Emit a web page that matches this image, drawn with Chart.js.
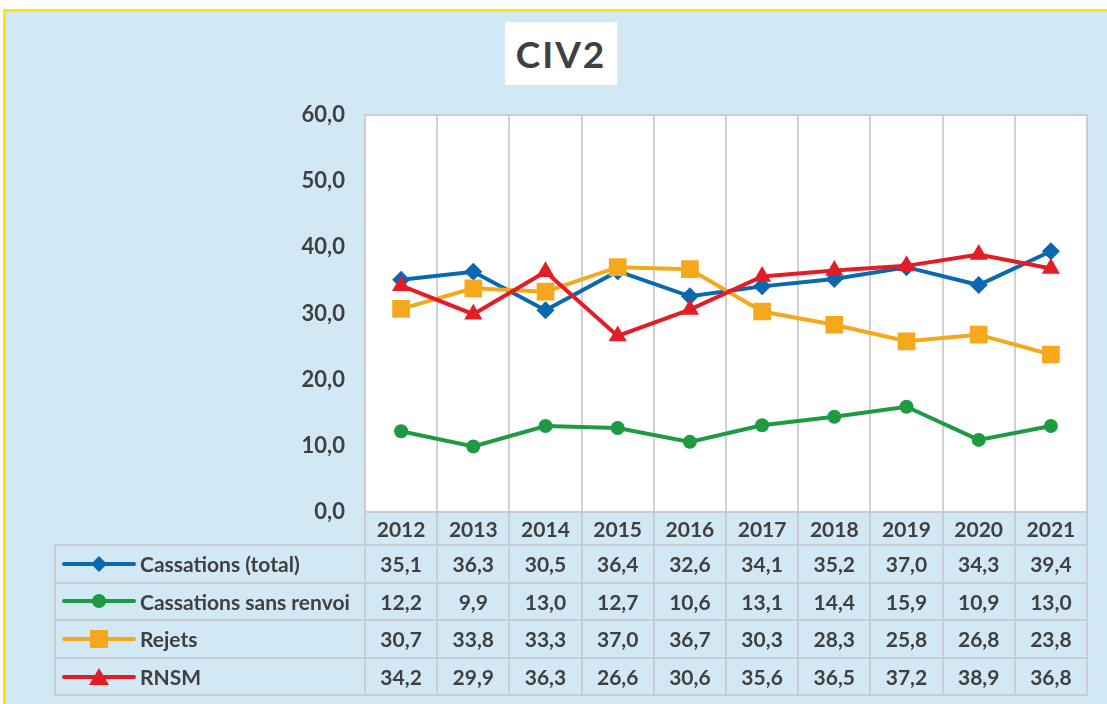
<!DOCTYPE html>
<html>
<head>
<meta charset="utf-8">
<script src="https://cdn.jsdelivr.net/npm/chart.js@4.4.1/dist/chart.umd.min.js"></script>
<style>
  html, body { margin: 0; padding: 0; background: #fff; }
  #wrap { position: absolute; left: 0; top: 0; width: 1107px; height: 704px; overflow: hidden; }
  #frame { position: absolute; left: 3px; top: 9px; width: 1110px; height: 710px; box-sizing: border-box;
           border: 3px solid #FFE800; background: #D2E8F4; }
  #title { position: absolute; left: 505px; top: 22px; width: 112px; height: 63px; background: #fff;
           font: bold 37px Lato, "Open Sans", sans-serif; color: #404040; text-align: center;
           line-height: 63px; letter-spacing: 2px; }
  canvas { position: absolute; left: 0; top: 0; }
  .cell { position: absolute; box-sizing: border-box; border: 2px solid #C9CDD0; font: bold 21px Lato, "Open Sans", sans-serif;
          color: #404040; display: flex; align-items: center; justify-content: center; }
  .lab { justify-content: flex-start; }
  .lab svg { margin-left: 6px; margin-right: 4px; }
</style>
</head>
<body>
<div id="wrap">
  <div id="frame"></div>
  <div id="title">CIV2</div>
  <canvas id="myChart" width="1107" height="704"></canvas>
  <div id="table"></div>
</div>
<script>
var years = ['2012', '2013', '2014', '2015', '2016', '2017', '2018', '2019', '2020', '2021'];
var cassTotal = [35.1, 36.3, 30.5, 36.4, 32.6, 34.1, 35.2, 37.0, 34.3, 39.4];
var cassSansRenvoi = [12.2, 9.9, 13.0, 12.7, 10.6, 13.1, 14.4, 15.9, 10.9, 13.0];
var rejets = [30.7, 33.8, 33.3, 37.0, 36.7, 30.3, 28.3, 25.8, 26.8, 23.8];
var rnsm = [34.2, 29.9, 36.3, 26.6, 30.6, 35.6, 36.5, 37.2, 38.9, 36.8];
var seriesNames = ['Cassations (total)', 'Cassations sans renvoi', 'Rejets', 'RNSM'];
var yMin = 0, yMax = 60, yStep = 10;

var colors = ['#0A68B0', '#1E9A43', '#F5A81C', '#E31D25'];
var markers = ['rectRot', 'circle', 'rect', 'triangle'];
var radii = [9, 7, 12.5, 10.5];

function fmt(v) {
    return v.toFixed(1).replace('.', ',');
}

// plot area background + border
var areaPlugin = {
    id: 'areaPlugin',
    beforeDraw: function (chart) {
        var a = chart.chartArea, ctx = chart.ctx;
        ctx.save();
        ctx.fillStyle = '#FFFFFF';
        ctx.fillRect(a.left, a.top, a.right - a.left, a.bottom - a.top);
        ctx.restore();
    },
    afterDraw: function (chart) {
        var a = chart.chartArea, ctx = chart.ctx;
        ctx.save();
        ctx.strokeStyle = '#C9CDD0';
        ctx.lineWidth = 2;
        ctx.strokeRect(a.left, a.top, a.right - a.left, a.bottom - a.top);
        ctx.restore();
    }
};

var allData = [cassTotal, cassSansRenvoi, rejets, rnsm];
var datasets = allData.map(function (d, i) {
    return {
        label: seriesNames[i],
        data: d,
        borderColor: colors[i],
        backgroundColor: colors[i],
        borderWidth: 4,
        pointStyle: markers[i],
        pointRadius: radii[i],
        pointBorderWidth: 0,
        tension: 0,
        order: 4 - i
    };
});

const ctx = document.getElementById('myChart');
var chart = new Chart(ctx, {
    type: 'line',
    data: { labels: years, datasets: datasets },
    options: {
        responsive: false,
        animation: false,
        layout: { padding: { left: 0, top: 115, right: 20, bottom: 192 } },
        plugins: { legend: { display: false }, title: { display: false }, tooltip: { enabled: false } },
        scales: {
            x: {
                offset: true,
                ticks: { display: false },
                grid: { display: true, offset: true, color: '#D0D0D0', lineWidth: 2, drawTicks: false },
                border: { display: false }
            },
            y: {
                min: yMin, max: yMax,
                afterFit: function (scale) { scale.width = 365; },
                ticks: {
                    stepSize: yStep,
                    padding: 20,
                    color: '#404040',
                    font: { family: 'Lato', size: 22, weight: 'bold' },
                    callback: function (v) { return fmt(v); }
                },
                grid: { display: false, drawTicks: false },
                border: { display: false }
            }
        }
    },
    plugins: [areaPlugin]
});

// data table below the plot, aligned with the x scale
function legendSvg(i) {
    var s = '<svg width="74" height="20" viewBox="0 0 74 20">';
    s += '<line x1="2" y1="10" x2="72" y2="10" stroke="' + colors[i] + '" stroke-width="4" stroke-linecap="round"/>';
    if (markers[i] === 'rectRot') s += '<polygon points="37,2 45,10 37,18 29,10" fill="' + colors[i] + '"/>';
    if (markers[i] === 'circle') s += '<circle cx="37" cy="10" r="7" fill="' + colors[i] + '"/>';
    if (markers[i] === 'rect') s += '<rect x="28" y="1" width="18" height="18" fill="' + colors[i] + '"/>';
    if (markers[i] === 'triangle') s += '<polygon points="37,1 47,18 27,18" fill="' + colors[i] + '"/>';
    return s + '</svg>';
}

var area = chart.chartArea;
var colW = (area.right - area.left) / years.length;
var tableLeft = 54;
var headTop = area.bottom, headH = 33;
var rowH = 37.6;
var html = '';
function cell(x, y, w, h, txt, cls) {
    html += '<div class="cell ' + (cls || '') + '" style="left:' + x + 'px;top:' + y + 'px;width:' + (w + 2) + 'px;height:' + (h + 2) + 'px">' + txt + '</div>';
}
years.forEach(function (yr, j) {
    cell(area.left + j * colW - 1, headTop - 1, colW, headH, yr);
});
allData.forEach(function (d, i) {
    var top = headTop + headH + i * rowH - 1;
    cell(tableLeft, top, area.left - tableLeft - 1, rowH, legendSvg(i) + seriesNames[i], 'lab');
    d.forEach(function (v, j) {
        cell(area.left + j * colW - 1, top, colW, rowH, fmt(v));
    });
});
document.getElementById('table').innerHTML = html;
</script>
</body>
</html>
